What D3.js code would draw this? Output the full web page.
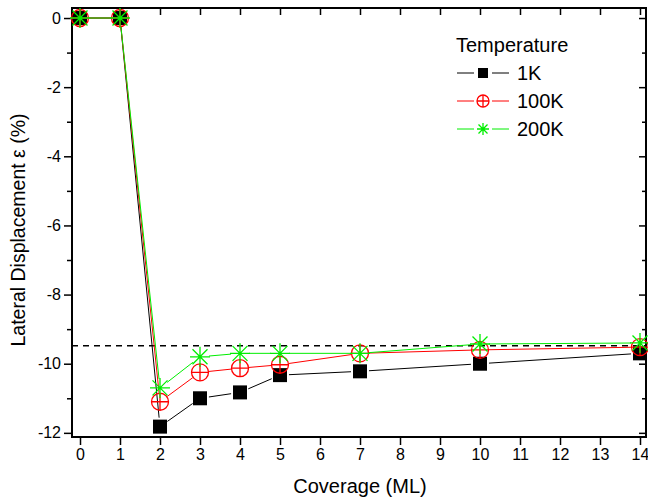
<!DOCTYPE html>
<html>
<head>
<meta charset="utf-8">
<script src="https://cdn.jsdelivr.net/npm/d3@7"></script>
<style>
body { margin: 0; background: #fff; }
svg text { font-family: "Liberation Sans", Arial, sans-serif; }
</style>
</head>
<body>
<div id="chart"></div>
<script>
var coverage = [0, 1, 2, 3, 4, 5, 7, 10, 14];
var temp1K   = [0, 0, -11.82, -11.0, -10.83, -10.33, -10.22, -10.0, -9.7];
var temp100K = [0, 0, -11.1, -10.25, -10.13, -10.03, -9.7, -9.6, -9.52];
var temp200K = [0, 0, -10.7, -9.8, -9.7, -9.7, -9.7, -9.43, -9.4];
var refLevel = -9.48;
var xTicks = d3.range(0, 15);
var yTicks = [0, -2, -4, -6, -8, -10, -12];
var yMinor = [-1, -3, -5, -7, -9, -11];

var w = 648, h = 500;
var pLeft = 72, pRight = 646, pTop = 8, pBottom = 437;

var x = d3.scaleLinear().domain([-0.2, 14.15]).range([pLeft, pRight]);
var y = d3.scaleLinear().domain([-12.12, 0.29]).range([pBottom, pTop]);

var svg = d3.select("#chart").append("svg")
  .attr("width", w).attr("height", h);

// frame
svg.append("rect")
  .attr("x", pLeft).attr("y", pTop)
  .attr("width", pRight - pLeft).attr("height", pBottom - pTop)
  .attr("fill", "none").attr("stroke", "#000").attr("stroke-width", 2);

// axes
svg.append("g")
  .attr("transform", "translate(0," + pBottom + ")")
  .call(d3.axisBottom(x).tickValues(xTicks).tickSize(8).tickPadding(4).tickFormat(d3.format("d")));
svg.append("g")
  .attr("transform", "translate(" + pLeft + ",0)")
  .call(d3.axisLeft(y).tickValues(yTicks).tickSize(8).tickPadding(3).tickFormat(function(d){ return String(d); }));
svg.append("g")
  .attr("transform", "translate(" + pLeft + ",0)")
  .call(d3.axisLeft(y).tickValues(yMinor).tickSize(5).tickFormat(""));
// inner ticks on top and right
svg.append("g")
  .attr("transform", "translate(0," + pTop + ")")
  .call(d3.axisBottom(x).tickValues(xTicks).tickSize(7).tickFormat(""));
svg.append("g")
  .attr("transform", "translate(" + pRight + ",0)")
  .call(d3.axisLeft(y).tickValues(yTicks).tickSize(7).tickFormat(""));
svg.append("g")
  .attr("transform", "translate(" + pRight + ",0)")
  .call(d3.axisLeft(y).tickValues(yMinor).tickSize(4).tickFormat(""));

svg.selectAll(".domain").remove();
svg.selectAll(".tick line").attr("stroke", "#000").attr("stroke-width", 1.5);
svg.selectAll(".tick text").attr("font-size", 16).attr("fill", "#000")
  .style("font-family", "'Liberation Sans', Arial, sans-serif");

// reference dashed line
svg.append("line")
  .attr("x1", pLeft).attr("x2", pRight)
  .attr("y1", y(refLevel)).attr("y2", y(refLevel))
  .attr("stroke", "#000").attr("stroke-width", 1.5)
  .attr("stroke-dasharray", "6,5");

// series
var series = [
  { name: "1K", values: temp1K, color: "#000000", marker: "square", gap: 9 },
  { name: "100K", values: temp100K, color: "#ff0000", marker: "circle", gap: 9 },
  { name: "200K", values: temp200K, color: "#00ee00", marker: "star", gap: 9 }
];

function drawMarker(g, type, cx, cy, color, s) {
  if (type === "square") {
    g.append("rect").attr("x", cx - s).attr("y", cy - s)
      .attr("width", 2 * s).attr("height", 2 * s).attr("fill", "#000");
  } else if (type === "circle") {
    g.append("circle").attr("cx", cx).attr("cy", cy).attr("r", s)
      .attr("fill", "none").attr("stroke", color).attr("stroke-width", 1.3);
    g.append("path").attr("d", "M" + (cx - s) + "," + cy + "H" + (cx + s) + "M" + cx + "," + (cy - s) + "V" + (cy + s))
      .attr("stroke", color).attr("stroke-width", 1.3);
  } else {
    var d = "M" + (cx - s) + "," + cy + "H" + (cx + s) + "M" + cx + "," + (cy - s) + "V" + (cy + s);
    var k = s * 0.75;
    d += "M" + (cx - k) + "," + (cy - k) + "L" + (cx + k) + "," + (cy + k);
    d += "M" + (cx - k) + "," + (cy + k) + "L" + (cx + k) + "," + (cy - k);
    g.append("path").attr("d", d).attr("stroke", color).attr("stroke-width", 1.3);
  }
}

var sizes = { square: 7, circle: 8.5, star: 10 };

series.forEach(function(s) {
  var g = svg.append("g");
  var pts = coverage.map(function(c, i) { return [x(c), y(s.values[i])]; });
  for (var i = 0; i < pts.length - 1; i++) {
    var a = pts[i], b = pts[i + 1];
    var dx = b[0] - a[0], dy = b[1] - a[1];
    var len = Math.sqrt(dx * dx + dy * dy);
    if (len <= 2 * s.gap) continue;
    var ux = dx / len, uy = dy / len;
    g.append("line")
      .attr("x1", a[0] + ux * s.gap).attr("y1", a[1] + uy * s.gap)
      .attr("x2", b[0] - ux * s.gap).attr("y2", b[1] - uy * s.gap)
      .attr("stroke", s.color).attr("stroke-width", 1);
  }
  pts.forEach(function(p) { drawMarker(g, s.marker, p[0], p[1], s.color, sizes[s.marker]); });
});

// legend
var lg = svg.append("g");
lg.append("text").attr("x", 456).attr("y", 52).attr("font-size", 20).text("Temperature");
series.forEach(function(s, i) {
  var ly = 73 + i * 28;
  lg.append("line").attr("x1", 457).attr("x2", 474).attr("y1", ly).attr("y2", ly).attr("stroke", s.color);
  lg.append("line").attr("x1", 492).attr("x2", 509).attr("y1", ly).attr("y2", ly).attr("stroke", s.color);
  drawMarker(lg, s.marker, 483, ly, s.color, s.marker === "square" ? 5 : 6);
  lg.append("text").attr("x", 517).attr("y", ly + 7).attr("font-size", 20).text(s.name);
});

// axis titles
svg.append("text")
  .attr("x", 360).attr("y", 493)
  .attr("text-anchor", "middle").attr("font-size", 20)
  .text("Coverage (ML)");
svg.append("text")
  .attr("transform", "translate(25,230) rotate(-90)")
  .attr("text-anchor", "middle").attr("font-size", 19.5)
  .text("Lateral Displacement ε (%)");
</script>
</body>
</html>
